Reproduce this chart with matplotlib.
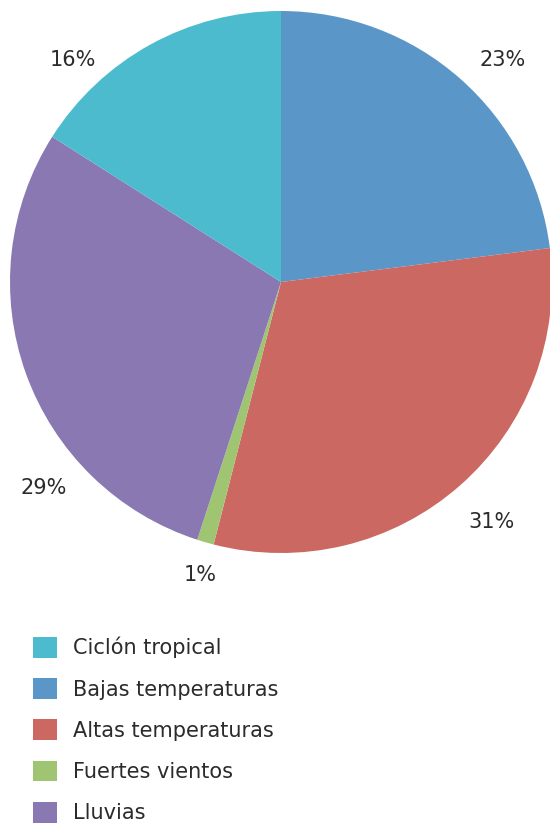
import matplotlib
matplotlib.use("Agg")
import matplotlib.pyplot as plt

# slices in drawing order, clockwise from 12 o'clock
categories = ["Bajas temperaturas", "Altas temperaturas", "Fuertes vientos", "Lluvias", "Ciclón tropical"]
shares = [23, 31, 1, 29, 16]
colors = ["#5A96C8", "#CB6862", "#A0C572", "#8A78B3", "#4CBBCE"]

# legend lists the series in this order
legend_order = ["Ciclón tropical", "Bajas temperaturas", "Altas temperaturas", "Fuertes vientos", "Lluvias"]

# label anchor points (axes data units, pie radius = 1)
label_pos = [(0.819, 0.819), (0.775, -0.886), (-0.299, -1.081), (-0.875, -0.760), (-0.768, 0.819)]

text_color = "#2b2b2b"
fs = 15

fig = plt.figure(figsize=(5.5, 8.24), dpi=100)
ax = fig.add_axes([10 / 550, 1 - 553 / 824, 542 / 550, 542 / 824])

wedges, texts, autotexts = ax.pie(
    shares, colors=colors, startangle=90, counterclock=False,
    autopct="%d%%", pctdistance=1.15, radius=1,
    wedgeprops=dict(linewidth=0),
    textprops=dict(fontsize=fs, color=text_color),
)
for t, (x, y) in zip(autotexts, label_pos):
    t.set_position((x, y))
    t.set_ha("center")
    t.set_va("center")

ax.set_xlim(-1, 1)
ax.set_ylim(-1, 1)
ax.set_aspect("equal")
ax.axis("off")

handles = [wedges[categories.index(name)] for name in legend_order]
fig.legend(
    handles, legend_order, loc="upper left",
    bbox_to_anchor=(33 / 550, 1 - 637 / 824),
    frameon=False, fontsize=fs, labelcolor=text_color,
    handlelength=1.15, handleheight=1.15, handletextpad=0.75,
    labelspacing=0.95, borderpad=0, borderaxespad=0,
)

fig.savefig("out.png", dpi=100)
